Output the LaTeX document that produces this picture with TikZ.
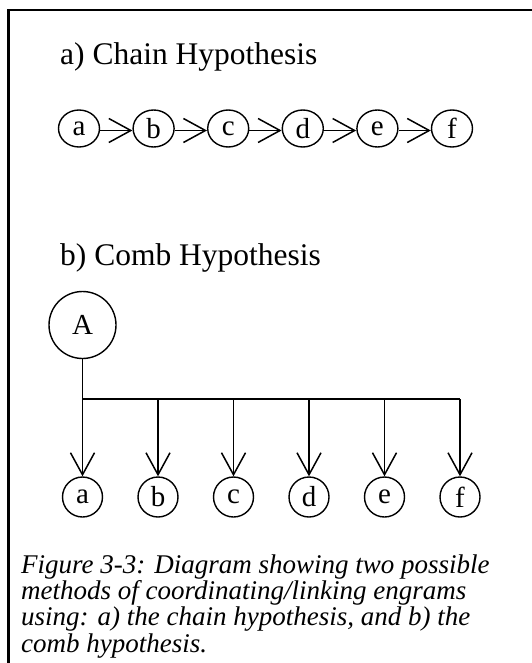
\documentclass[tikz,border=0pt]{standalone}
\usepackage{fontspec}
\setmainfont{Liberation Serif}
\usetikzlibrary{arrows.meta, shapes.geometric}

\tikzset{
  engram/.style={ellipse, draw, line width=1.4pt, minimum width=41pt, minimum height=37pt,
    inner sep=0pt, font=\fontsize{29}{29}\selectfont},
  engrambig/.style={circle, draw, line width=1.4pt, minimum size=40pt, inner sep=0pt,
    font=\fontsize{29}{29}\selectfont},
  hub/.style={engrambig, minimum size=67pt},
  link/.style={line width=1.5pt, -{Straight Barb[length=22pt, width=24pt]}},
  bar/.style={line width=1.5pt},
  heading/.style={inner sep=0pt, anchor=base west, font=\fontsize{31.5}{31.5}\selectfont},
  caption/.style={inner sep=0pt, anchor=base west, align=left,
    font=\fontsize{27}{26.3}\selectfont\itshape}
}

\begin{document}
\begin{tikzpicture}[x=1pt, y=-1pt]
  \useasboundingbox (0,0) rectangle (531,663);
  % frame
  \draw[line width=2.5pt] (8.5,670) -- (8.5,10) -- (540,10);

  % a) chain
  \node[heading] (chaintitle) at (60,65) {a) Chain Hypothesis};
  \foreach \lbl [count=\i from 0] in {a,b,c,d,e,f}
    \node[engram] (chain\lbl) at (79+74.6*\i,128.5) {\lbl};
  \foreach \from/\to in {a/b,b/c,c/d,d/e,e/f}
    \draw[link] ([yshift=-2pt]chain\from.east) -- ([yshift=-2pt]chain\to.west);

  % b) comb
  \node[heading] (combtitle) at (60,265) {b) Comb Hypothesis};
  \node[hub] (A) at (82.5,325) {A};
  \foreach \lbl [count=\i from 0] in {a,b,c,d,e,f}
    \node[engrambig] (comb\lbl) at (82.5+75.5*\i,497) {\lbl};
  \coordinate (spine) at (0,399);
  \draw[bar] (A |- spine) -- (combf |- spine);
  \draw[link] (A) -- (comba);
  \foreach \lbl in {b,c,d,e,f}
    \draw[link] (comb\lbl |- spine) -- (comb\lbl);

  % caption
  \node[caption] (caption) at (21,652) {Figure 3-3: Diagram showing two possible\\
    methods of coordinating/linking engrams\\
    using: a) the chain hypothesis, and b) the\\
    comb hypothesis.};
\end{tikzpicture}
\end{document}
